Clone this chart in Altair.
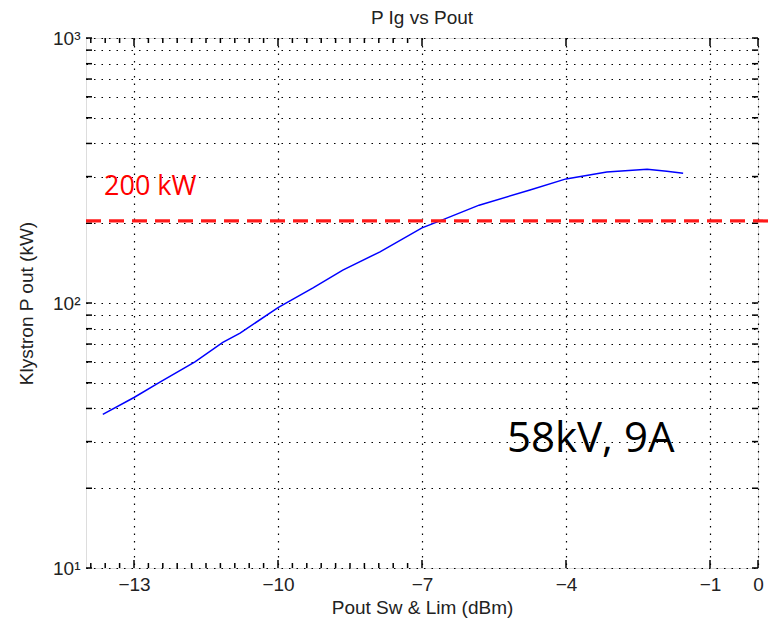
import altair as alt
import pandas as pd

# Curve
pout_dbm = [-13.65, -13.0, -12.46, -11.73, -11.15, -10.79, -10.0, -9.27, -8.65, -7.875,
            -7.0, -6.6, -5.81, -4.75, -4.0, -3.15, -2.31, -1.9, -1.56]
p_kw = [38, 44, 50.3, 60, 71, 77, 96, 114, 133, 156,
        192, 205, 234, 267, 294, 312, 320, 314, 309]

x_major = [-13, -10, -7, -4, -1, 0]
x_minor = [-13.9, -13.6, -13.3, -12.7, -12.4, -12.1, -11.8, -11.5, -11.2, -10.9, -10.6, -10.3,
           -9.7, -9.4, -9.1, -8.8, -8.5, -8.2, -7.9, -7.6, -7.3]
y_vals = [10, 20, 30, 40, 50, 60, 70, 80, 90, 100, 200, 300, 400, 500, 600, 700, 800, 900, 1000]

ref_level = [204]
ref_x = [-14]
ref_x2 = [0.33]

ann_text = ["200 kW", "58kV, 9A"]
ann_x = [-13.625, -5.23]
ann_y = [255.6, 27.4]

W, H = 672, 530
FONT = "Liberation Sans"

xscale = alt.Scale(domain=[-14, 0], nice=False, zero=False)
yscale = alt.Scale(type="log", domain=[10, 1000], nice=False)

curve_df = pd.DataFrame({"x": pout_dbm, "y": p_kw})
base = alt.Chart(curve_df)

line = base.mark_line(color="#0000FF", strokeWidth=1.5).encode(
    x=alt.X("x:Q", scale=xscale,
            axis=alt.Axis(values=x_major, grid=True, gridColor="black", gridDash=[1.5, 6],
                          gridWidth=1.2, gridOpacity=1, ticks=False, tickSize=0, domain=False,
                          labelFont=FONT, labelFontSize=19, labelColor="#222",
                          labelPadding=7, labelFlush=False,
                          title="Pout Sw & Lim (dBm)", titleFont=FONT, titleFontSize=19,
                          titleFontWeight="normal", titleColor="#222", titlePadding=4)),
    y=alt.Y("y:Q", scale=yscale,
            axis=alt.Axis(values=y_vals, grid=True, gridColor="black", gridDash=[1.5, 6],
                          gridWidth=1.2, gridOpacity=1, ticks=False, tickSize=0, domain=False,
                          labelExpr="datum.value == 10 ? '10¹' : datum.value == 100 ? '10²' : datum.value == 1000 ? '10³' : ''",
                          labelFont=FONT, labelFontSize=19, labelColor="#222",
                          labelPadding=6, labelFlush=False,
                          title="Klystron P out (kW)", titleFont=FONT, titleFontSize=19,
                          titleFontWeight="normal", titleColor="#222", titlePadding=16)),
)

ref_df = pd.DataFrame({"y": ref_level, "x": ref_x, "x2": ref_x2})
ref_rule = alt.Chart(ref_df).mark_rule(color="#FF1A1A", strokeWidth=3.2, strokeDash=[15, 8],
                                       clip=False).encode(
    x=alt.X("x:Q", scale=xscale), x2="x2:Q", y=alt.Y("y:Q", scale=yscale))

ann_df = pd.DataFrame({"t": ann_text, "x": ann_x, "y": ann_y})
ann1 = alt.Chart(ann_df.iloc[[0]]).mark_text(align="left", baseline="alphabetic",
                                              font="Open Sans", fontSize=27, color="#FF0000").encode(
    x=alt.X("x:Q", scale=xscale), y=alt.Y("y:Q", scale=yscale), text="t:N")
ann2 = alt.Chart(ann_df.iloc[[1]]).mark_text(align="left", baseline="alphabetic",
                                              font="Open Sans", fontSize=42, color="#000000").encode(
    x=alt.X("x:Q", scale=xscale), y=alt.Y("y:Q", scale=yscale), text="t:N")

# inward tick marks (box style)
ydf = pd.DataFrame({"y": y_vals})
yt_left = alt.Chart(ydf).mark_rule(color="black", strokeWidth=1.5).encode(
    y=alt.Y("y:Q", scale=yscale), x=alt.value(0), x2=alt.value(6))
yt_right = alt.Chart(ydf).mark_rule(color="black", strokeWidth=1.5).encode(
    y=alt.Y("y:Q", scale=yscale), x=alt.value(W - 6), x2=alt.value(W))

xmaj_df = pd.DataFrame({"x": x_major})
xmin_df = pd.DataFrame({"x": x_minor})
xt_bot = alt.Chart(xmaj_df).mark_rule(color="black", strokeWidth=1.5).encode(
    x=alt.X("x:Q", scale=xscale), y=alt.value(H - 8), y2=alt.value(H))
xt_top = alt.Chart(xmaj_df).mark_rule(color="black", strokeWidth=1.5).encode(
    x=alt.X("x:Q", scale=xscale), y=alt.value(0), y2=alt.value(8))
xm_bot = alt.Chart(xmin_df).mark_rule(color="black", strokeWidth=1.5).encode(
    x=alt.X("x:Q", scale=xscale), y=alt.value(H - 5), y2=alt.value(H))
xm_top = alt.Chart(xmin_df).mark_rule(color="black", strokeWidth=1.5).encode(
    x=alt.X("x:Q", scale=xscale), y=alt.value(0), y2=alt.value(5))

chart = alt.layer(
    line, yt_left, yt_right, xt_bot, xt_top, xm_bot, xm_top, ref_rule, ann1, ann2
).properties(
    width=W, height=H,
    title=alt.TitleParams("P Ig vs Pout", font=FONT, fontSize=19, fontWeight="normal",
                          color="#222", offset=1),
    padding={"left": 78, "top": 30, "right": 13, "bottom": 54},
    autosize=alt.AutoSizeParams(type="none"),
).configure_view(stroke="#222", strokeWidth=2).configure(background="white")

chart.save("out.html", embed_options={"renderer": "svg", "actions": False})
